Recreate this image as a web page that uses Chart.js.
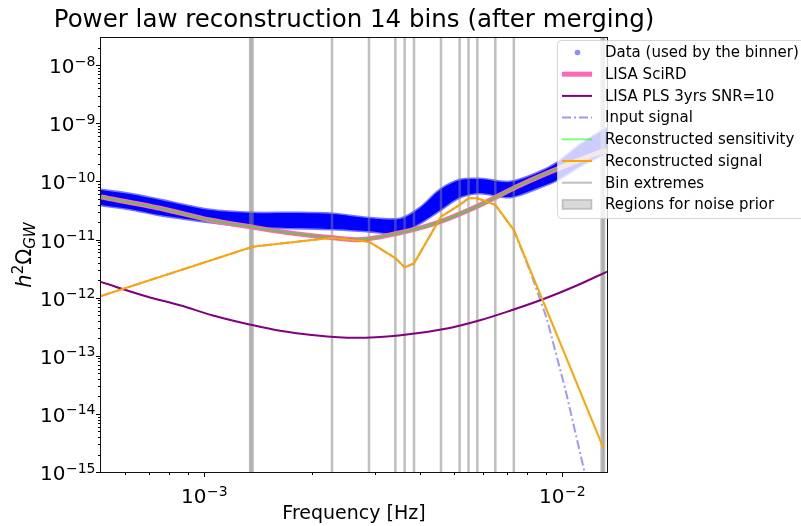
<!DOCTYPE html>
<html>
<head>
<meta charset="utf-8">
<script src="https://cdn.jsdelivr.net/npm/chart.js@4.4.1/dist/chart.umd.min.js"></script>
<style>
html, body { margin: 0; padding: 0; background: #fff; }
#wrap { width: 801px; height: 526px; }
</style>
</head>
<body>
<div id="wrap"><canvas id="chart" width="801" height="526"></canvas></div>
<script>
// axis ranges and ticks
const xMin = 5.156e-4, xMax = 1.3356e-2;
const yMin = 1e-15, yMax = 2.95e-8;
const xMajorTicks = [1e-3, 1e-2];
const yMajorTicks = [1e-15, 1e-14, 1e-13, 1e-12, 1e-11, 1e-10, 1e-9, 1e-8];

// data band (used by the binner), upper and lower edge
const bandFreq  = [5.156e-4, 6.21e-4, 7.54e-4, 1.039e-3, 1.37e-3, 1.772e-3, 2.291e-3, 2.847e-3, 3.527e-3, 4.013e-3, 4.562e-3, 5.189e-3, 5.902e-3, 7.157e-3, 8.682e-3, 9.68e-3, 1.123e-2, 1.3356e-2];
const bandUpper = [7.15e-11, 6.10e-11, 4.81e-11, 3.23e-11, 2.87e-11, 2.87e-11, 2.76e-11, 2.36e-11, 2.26e-11, 3.50e-11, 7.15e-11, 1.06e-10, 1.10e-10, 9.8e-11, 1.46e-10, 2.08e-10, 4.25e-10, 8.34e-10];
const bandLower = [3.95e-11, 3.37e-11, 2.65e-11, 2.01e-11, 1.65e-11, 1.585e-11, 1.52e-11, 1.41e-11, 1.30e-11, 1.93e-11, 3.23e-11, 5.41e-11, 6.34e-11, 5.41e-11, 8.03e-11, 1.06e-10, 1.85e-10, 3.22e-10];

// sensitivity curves
const sensFreq = [5.156e-4, 7.54e-4, 1.039e-3, 1.37e-3, 1.772e-3, 2.291e-3, 2.762e-3, 3.642e-3, 4.562e-3, 5.902e-3, 7.47e-3, 9.06e-3, 1.25e-2, 1.3356e-2];
const sciRD    = [5.41e-11, 3.46e-11, 2.17e-11, 1.63e-11, 1.28e-11, 1.08e-11, 1.00e-11, 1.37e-11, 2.03e-11, 3.94e-11, 8.15e-11, 1.38e-10, 3.05e-10, 3.48e-10];
const recSens  = [5.41e-11, 3.46e-11, 2.17e-11, 1.63e-11, 1.28e-11, 1.08e-11, 1.00e-11, 1.37e-11, 2.03e-11, 3.94e-11, 8.15e-11, 1.38e-10, 3.05e-10, 3.48e-10];

// power law sensitivity
const plsFreq  = [5.156e-4, 6.92e-4, 8.57e-4, 1.06e-3, 1.34e-3, 1.63e-3, 2.0e-3, 2.64e-3, 3.5e-3, 4.86e-3, 5.9e-3, 7.16e-3, 8.77e-3, 1.1e-2, 1.3356e-2];
const plsSNR10 = [1.86e-12, 1.05e-12, 7.4e-13, 4.95e-13, 3.46e-13, 2.69e-13, 2.29e-13, 2.04e-13, 2.24e-13, 3.02e-13, 4.08e-13, 5.96e-13, 9.2e-13, 1.62e-12, 2.82e-12];

// signals
const sigFreq   = [5.156e-4, 1.367e-3, 2.278e-3, 2.890e-3, 3.424e-3, 3.634e-3, 3.860e-3, 4.592e-3, 5.176e-3, 5.481e-3, 5.801e-3, 6.512e-3, 7.336e-3, 1.306e-2];
const recSignal = [1.07e-12, 7.55e-12, 1.08e-11, 9.2e-12, 4.8e-12, 3.33e-12, 3.9e-12, 2.48e-11, 3.95e-11, 5.14e-11, 5.14e-11, 3.95e-11, 1.46e-11, 2.56e-15];
const inFreq      = [5.156e-4, 1.367e-3, 2.278e-3, 2.890e-3, 3.424e-3, 3.634e-3, 3.860e-3, 4.592e-3, 5.176e-3, 5.481e-3, 5.801e-3, 6.512e-3, 7.336e-3, 8.14e-3, 9.06e-3, 1.0195e-2, 1.147e-2, 1.277e-2];
const inputSignal = [1.07e-12, 7.55e-12, 1.08e-11, 9.2e-12, 4.8e-12, 3.33e-12, 3.9e-12, 2.48e-11, 3.95e-11, 5.14e-11, 5.14e-11, 3.95e-11, 1.46e-11, 2.88e-12, 4.48e-13, 2.79e-14, 1.23e-15, 6.8e-17];

// bins
const binEdges = [1.3455e-3, 1.367e-3, 2.278e-3, 2.890e-3, 3.424e-3, 3.634e-3, 3.860e-3, 4.592e-3, 5.176e-3, 5.481e-3, 5.801e-3, 6.512e-3, 7.336e-3, 1.290e-2, 1.311e-2];
const noiseRegions = [[1.3455e-3, 1.367e-3], [1.290e-2, 1.311e-2]];

const FONT = '"DejaVu Sans", "Liberation Sans", sans-serif';

function pts(xs, ys) {
    return xs.map((x, i) => ({ x: x, y: ys[i] }));
}

function isMajor(v) {
    const e = Math.round(Math.log10(v));
    return Math.abs(v / Math.pow(10, e) - 1) < 1e-6;
}
// majors plus 2..9 minors inside the range
function logTicks(majors, lo, hi) {
    const out = [];
    const e0 = Math.floor(Math.log10(lo)), e1 = Math.ceil(Math.log10(hi));
    for (let e = e0; e <= e1; e++) {
        for (let m = 1; m <= 9; m++) {
            const v = m * Math.pow(10, e);
            if (v < lo * 0.9999 || v > hi * 1.0001) continue;
            if (m === 1 && !majors.some(t => Math.abs(t / v - 1) < 1e-6)) continue;
            out.push({ value: v });
        }
    }
    return out;
}

const datasets = [];
function add(ds) {
    datasets.push(Object.assign({ pointRadius: 0, fill: false, clip: 0, tension: 0 }, ds));
}

add({ data: pts(bandFreq, bandLower), borderColor: 'rgba(0,0,255,0.55)', borderWidth: 3, tension: 0.3, order: 20 });
add({ data: pts(bandFreq, bandUpper), borderColor: 'rgba(0,0,255,0.55)', borderWidth: 3, tension: 0.3, order: 19,
      fill: { target: 0 }, backgroundColor: 'rgb(0,0,255)' });
noiseRegions.forEach(r => {
    add({ data: [{ x: r[0], y: 1e-7 }, { x: r[1], y: 1e-7 }], borderWidth: 0, fill: 'start',
          backgroundColor: 'rgba(128,128,128,0.3)', order: 18 });
});
binEdges.forEach(f => {
    add({ data: [{ x: f, y: 1e-16 }, { x: f, y: 1e-7 }], borderColor: 'rgba(128,128,128,0.5)', borderWidth: 2.5, order: 17 });
});
add({ data: pts(sensFreq, sciRD), borderColor: 'rgb(255,105,180)', borderWidth: 5, tension: 0.3, order: 6 });
add({ data: pts(sensFreq, recSens), borderColor: 'rgba(0,255,0,0.5)', borderWidth: 2.5, tension: 0.3, order: 5 });
add({ data: pts(plsFreq, plsSNR10), borderColor: 'rgb(128,0,128)', borderWidth: 2, cubicInterpolationMode: 'monotone', order: 4 });
add({ data: pts(inFreq, inputSignal), borderColor: 'rgba(0,0,255,0.4)', borderWidth: 2, borderDash: [9, 3, 2, 3], order: 3 });
add({ data: pts(sigFreq, recSignal), borderColor: 'rgb(255,165,0)', borderWidth: 2, order: 2 });

// legend entries
const legendItems = [
    { label: 'Data (used by the binner)', kind: 'dot', color: 'rgba(0,0,255,0.45)' },
    { label: 'LISA SciRD', kind: 'line', color: 'rgb(255,105,180)', width: 5 },
    { label: 'LISA PLS 3yrs SNR=10', kind: 'line', color: 'rgb(128,0,128)', width: 2 },
    { label: 'Input signal', kind: 'line', color: 'rgba(0,0,255,0.4)', width: 2, dash: [9, 3, 2, 3] },
    { label: 'Reconstructed sensitivity', kind: 'line', color: 'rgba(0,255,0,0.5)', width: 2 },
    { label: 'Reconstructed signal', kind: 'line', color: 'rgb(255,165,0)', width: 2 },
    { label: 'Bin extremes', kind: 'line', color: 'rgba(128,128,128,0.5)', width: 2 },
    { label: 'Regions for noise prior', kind: 'rect', color: 'rgba(128,128,128,0.3)' }
];

function roundRect(ctx, x, y, w, h, r) {
    ctx.beginPath();
    ctx.moveTo(x + r, y);
    ctx.lineTo(x + w - r, y);
    ctx.quadraticCurveTo(x + w, y, x + w, y + r);
    ctx.lineTo(x + w, y + h - r);
    ctx.quadraticCurveTo(x + w, y + h, x + w - r, y + h);
    ctx.lineTo(x + r, y + h);
    ctx.quadraticCurveTo(x, y + h, x, y + h - r);
    ctx.lineTo(x, y + r);
    ctx.quadraticCurveTo(x, y, x + r, y);
    ctx.closePath();
}

// "10" with a raised exponent, like matplotlib mathtext
function powParts(ctx, v) {
    const e = Math.round(Math.log10(v));
    const sup = (e < 0 ? '\u2212' : '') + Math.abs(e);
    ctx.font = '20px ' + FONT;
    const wb = ctx.measureText('10').width;
    ctx.font = '14px ' + FONT;
    const ws = ctx.measureText(sup).width;
    return { sup: sup, wb: wb, ws: ws };
}
function drawPow(ctx, p, x0, baseY, supY) {
    ctx.font = '20px ' + FONT;
    ctx.fillText('10', x0, baseY);
    ctx.font = '14px ' + FONT;
    ctx.fillText(p.sup, x0 + p.wb + 0.5, supY);
}

const decor = {
    id: 'decor',
    afterDraw(chart) {
        const ctx = chart.ctx;
        const a = chart.chartArea;
        const xs = chart.scales.x, ys = chart.scales.y;
        ctx.save();

        // tick marks
        ctx.strokeStyle = '#000';
        ctx.lineWidth = 1;
        ctx.beginPath();
        xs.ticks.forEach(t => {
            const px = Math.round(xs.getPixelForValue(t.value)) + 0.5;
            const len = isMajor(t.value) ? 5 : 3;
            ctx.moveTo(px, a.bottom);
            ctx.lineTo(px, a.bottom + len);
        });
        ys.ticks.forEach(t => {
            const py = Math.round(ys.getPixelForValue(t.value)) + 0.5;
            const len = isMajor(t.value) ? 5 : 3;
            ctx.moveTo(a.left, py);
            ctx.lineTo(a.left - len, py);
        });
        ctx.stroke();

        // tick labels
        ctx.fillStyle = '#000';
        ctx.textAlign = 'left';
        ctx.textBaseline = 'alphabetic';
        xs.ticks.filter(t => isMajor(t.value)).forEach(t => {
            const px = xs.getPixelForValue(t.value);
            const p = powParts(ctx, t.value);
            drawPow(ctx, p, px - (p.wb + p.ws) / 2, a.bottom + 31, a.bottom + 23.5);
        });
        ys.ticks.filter(t => isMajor(t.value)).forEach(t => {
            const py = ys.getPixelForValue(t.value);
            const p = powParts(ctx, t.value);
            drawPow(ctx, p, 95 - p.wb - p.ws, py + 8, py + 0.5);
        });

        // frame
        ctx.strokeStyle = '#111';
        ctx.strokeRect(Math.round(a.left) - 0.5, Math.round(a.top) - 0.5, Math.round(a.right - a.left) + 1, Math.round(a.bottom - a.top) + 1);

        // legend
        const lx = 557, ly = 40, lw = 260, lh = 178;
        roundRect(ctx, lx + 0.5, ly + 0.5, lw, lh, 4);
        ctx.fillStyle = 'rgba(255,255,255,0.8)';
        ctx.fill();
        ctx.strokeStyle = 'rgba(204,204,204,0.8)';
        ctx.lineWidth = 1;
        ctx.stroke();

        ctx.font = '15px ' + FONT;
        ctx.textBaseline = 'middle';
        legendItems.forEach((it, i) => {
            const cy = 52.5 + i * 21.7;
            if (it.kind === 'dot') {
                ctx.fillStyle = it.color;
                ctx.beginPath();
                ctx.arc(577.5, cy, 2.8, 0, Math.PI * 2);
                ctx.fill();
            } else if (it.kind === 'rect') {
                ctx.fillStyle = it.color;
                ctx.fillRect(562, cy - 5, 30, 10);
                ctx.strokeStyle = it.color;
                ctx.strokeRect(562.5, cy - 4.5, 29, 9);
            } else {
                ctx.strokeStyle = it.color;
                ctx.lineWidth = it.width;
                ctx.setLineDash(it.dash || []);
                ctx.beginPath();
                ctx.moveTo(562, cy);
                ctx.lineTo(592, cy);
                ctx.stroke();
                ctx.setLineDash([]);
            }
            ctx.fillStyle = '#000';
            ctx.fillText(it.label, 605, cy + 1);
        });

        // title
        ctx.font = '24.5px ' + FONT;
        ctx.textAlign = 'center';
        ctx.textBaseline = 'alphabetic';
        ctx.fillStyle = '#000';
        ctx.fillText('Power law reconstruction 14 bins (after merging)', (a.left + a.right) / 2, 27);

        // y axis label  h^2 Omega_GW
        ctx.translate(31, (a.top + a.bottom) / 2);
        ctx.rotate(-Math.PI / 2);
        const parts = [
            { t: 'h', f: 'italic 21px ' + FONT, dy: 0 },
            { t: '2', f: '15px ' + FONT, dy: -8 },
            { t: '\u03A9', f: '21px ' + FONT, dy: 0 },
            { t: 'GW', f: 'italic 15px ' + FONT, dy: 4 }
        ];
        let w = 0;
        parts.forEach(p => { ctx.font = p.f; p.w = ctx.measureText(p.t).width; w += p.w; });
        let px = -w / 2;
        ctx.textAlign = 'left';
        parts.forEach(p => { ctx.font = p.f; ctx.fillText(p.t, px, p.dy); px += p.w; });
        ctx.restore();
    }
};

new Chart(document.getElementById('chart'), {
    type: 'line',
    data: { datasets: datasets },
    options: {
        responsive: false,
        animation: false,
        events: [],
        layout: { padding: { left: 0, right: 194, top: 38, bottom: 0 } },
        plugins: { legend: { display: false }, tooltip: { enabled: false }, title: { display: false } },
        scales: {
            x: {
                type: 'logarithmic',
                min: xMin, max: xMax,
                afterFit: s => { s.height = 54; },
                afterBuildTicks: s => { s.ticks = logTicks(xMajorTicks, xMin, xMax); },
                grid: { display: false, drawTicks: false },
                border: { display: false },
                ticks: { display: false },
                title: { display: true, text: 'Frequency [Hz]', color: '#000', font: { family: FONT, size: 19 }, padding: { top: 0, bottom: 1 } }
            },
            y: {
                type: 'logarithmic',
                min: yMin, max: yMax,
                afterFit: s => { s.width = 101; },
                afterBuildTicks: s => { s.ticks = logTicks(yMajorTicks, yMin, yMax); },
                grid: { display: false, drawTicks: false },
                border: { display: false },
                ticks: { display: false }
            }
        }
    },
    plugins: [decor]
});
</script>
</body>
</html>
